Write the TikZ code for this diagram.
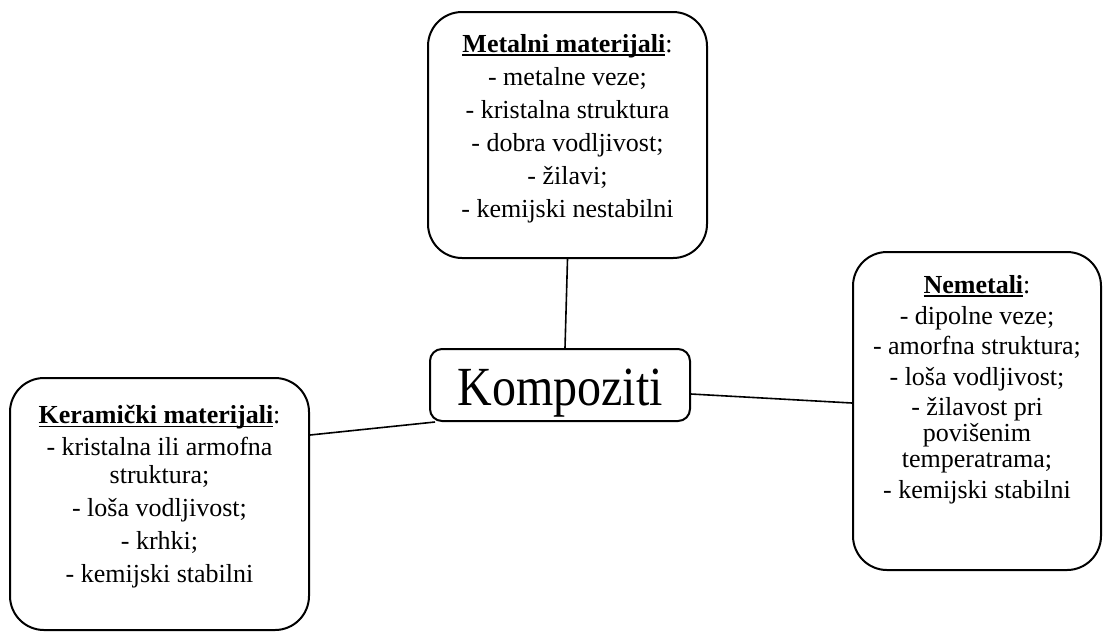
\documentclass[tikz,border=0pt]{standalone}
\usepackage{graphicx}
\usepackage{fontspec}
\setmainfont{Liberation Serif}
\usetikzlibrary{positioning}

% bold heading, rule close under the baseline
\newcommand{\matnaslov}[1]{\setbox0\hbox{\textbf{#1}}\rlap{\rule[-1.6pt]{\wd0}{0.7pt}}\box0}
\newcommand{\matfont}{\fontsize{13}{11}\selectfont\lineskiplimit=-100pt\relax}

\begin{document}
\begin{tikzpicture}[
    x=0.5pt, y=-0.5pt,
    matbox/.style={draw, line width=1pt, rounded corners=17pt},
    matlist/.style={align=center, inner sep=0pt, anchor=north, font=\matfont},
    hub/.style={draw, line width=1pt, rounded corners=6pt, minimum width=130pt, inner sep=0pt, text height=28pt, text depth=8pt, font=\fontsize{24}{28}\selectfont}
    ]
    \useasboundingbox (0,0) rectangle (1108,634);

    \node[hub] (komp) at (560,385) {\scalebox{1}[1.15]{Kompoziti}};

    \node[matbox, minimum width=139.5pt, minimum height=123pt] (metal) at (567.5,135) {};
    \node[matbox, minimum width=124pt, minimum height=159pt] (nemet) at (977,411) {};
    \node[matbox, minimum width=149.5pt, minimum height=126pt] (keram) at (159.5,504) {};

    \node[matlist] (metalT) at (567.5,34) {\matnaslov{Metalni materijali}:\\[5.5pt]
      - metalne veze;\\[5.5pt] - kristalna struktura\\[5.5pt] - dobra vodljivost;\\[5.5pt]
      - žilavi;\\[5.5pt] - kemijski nestabilni};
    \node[matlist] (nemetT) at (977,275) {\matnaslov{Nemetali}:\\[4.3pt]
      - dipolne veze;\\[4.3pt] - amorfna struktura;\\[4.3pt] - loša vodljivost;\\[4.3pt]
      - žilavost pri\\[2pt] povišenim\\[2pt] temperatrama;\\[4.3pt] - kemijski stabilni};
    \node[matlist] (keramT) at (159.5,405) {\matnaslov{Keramički materijali}:\\[5pt]
      - kristalna ili armofna\\[3pt] struktura;\\[5.5pt] - loša vodljivost;\\[5.5pt]
      - krhki;\\[5.5pt] - kemijski stabilni};

    \path[line width=0.8pt] (metal.south) edge ([xshift=2.5pt]komp.north)
    ([yshift=-4.5pt]komp.east) edge ([yshift=4pt]nemet.west)
    ([xshift=3pt]komp.south west) edge ([yshift=34.5pt]keram.east)
    ;

  \end{tikzpicture}
\end{document}
